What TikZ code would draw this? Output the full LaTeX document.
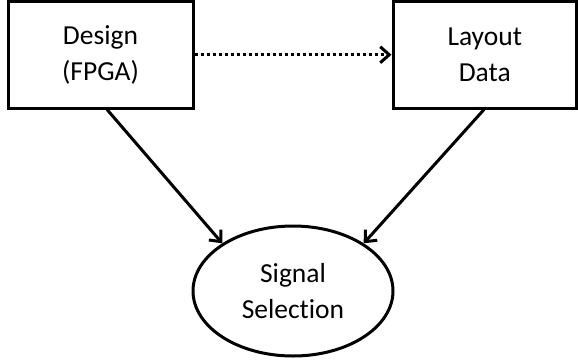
\documentclass[tikz,border=0pt]{standalone}
\usepackage{fontspec}
\setmainfont[Ligatures=NoCommon]{Carlito}
\usetikzlibrary{shapes.geometric,arrows.meta,calc}
\begin{document}
\begin{tikzpicture}[x=1pt,y=-1pt,
  every node/.style={font=\fontsize{27.5}{36}\selectfont, align=center},
  blockbox/.style={draw, line width=3pt, inner sep=0pt},
  link/.style={line width=3pt, -{Straight Barb[length=9pt,width=16pt,line width=3pt]}},
  dotlink/.style={link, dash pattern=on 3pt off 3pt}]
\useasboundingbox (0,0) rectangle (578,362);
\node[blockbox, minimum width=185pt, minimum height=106.5pt] (design) at (100.5,54.75) {Design\\(FPGA)};
\node[blockbox, minimum width=183.5pt, minimum height=106.5pt] (layout) at (484.75,54.75) {Layout\\Data};
\node[draw, ellipse, line width=3pt, minimum width=200pt, minimum height=130pt, inner sep=0pt] (sel) at (293,291) {Signal\\Selection};
\draw[dotlink] (design.east) -- (layout.west);
\draw[link] ($(design.south)+(6.5,0)$) -- (sel.146);
\draw[link] ($(layout.south)+(-0.75,0)$) -- (sel.34);
\end{tikzpicture}
\end{document}
